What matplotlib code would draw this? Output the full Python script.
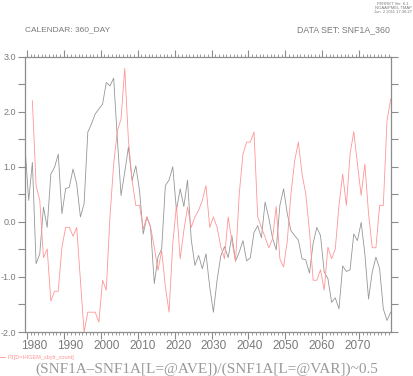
import numpy as np
import matplotlib
matplotlib.use("Agg")
import matplotlib.pyplot as plt
import matplotlib.transforms as mtransforms
from matplotlib.ticker import MultipleLocator

# --- data (annual values, normalised) ---
first_year = 1979.5
gray_vals = [1.36, 0.39, 1.08, -0.76, -0.58, 0.27, -0.10, 0.87, 0.99, 1.23,
             0.15, 0.60, 0.63, 0.96, 0.69, 0.09, 0.33, 1.63, 1.78, 1.96,
             2.05, 2.14, 2.53, 2.47, 2.61, 1.51, 0.48, 0.90, 1.36, 0.75,
             1.02, 0.57, -0.22, 0.09, -0.10, -1.12, -0.64, -0.49, 0.66, 0.76,
             1.00, 0.21, 0.60, 0.28, 0.76, -0.32, -0.79, -0.61, -0.85, -0.58,
             -1.18, -1.64, -1.06, -0.62, -0.45, -0.65, -0.25, -0.71, -0.55, -0.34,
             -0.71, -0.65, -0.19, -0.07, -0.29, 0.36, 0.07, -0.29, -0.51, 0.30,
             0.60, 0.15, -0.16, -0.25, -0.33, -0.67, -0.69, -0.93, -0.39, -0.10,
             -0.25, -0.91, -1.03, -1.46, -1.38, -1.58, -0.80, -0.90, -0.87, -0.22,
             -0.34, -0.01, -0.58, -1.40, -0.91, -0.64, -0.85, -1.58, -1.79, -1.64]
red_vals = [np.nan, np.nan, 2.20, 0.66, 0.39, -0.65, -0.49, -1.44, -1.26, -1.26,
            -0.46, -0.10, -0.10, -0.26, -0.10, -1.06, -2.00, -1.64, -1.64, -1.64,
            -1.82, -1.06, -1.24, 0.09, 1.05, 1.65, 1.87, 2.79, 1.48, 0.75,
            0.30, 0.30, -0.13, 0.09, -0.10, -0.46, -0.88, -0.52, -1.18, -1.64,
            -0.40, 0.30, -0.67, -0.16, 0.27, -0.10, 0.09, 0.21, 0.39, 0.66,
            -0.10, 0.09, -0.10, -0.45, -0.67, 0.09, -0.35, -0.72, 0.51, 1.23,
            1.45, 1.45, 1.63, 0.09, -0.10, -0.28, -0.47, -0.31, 0.28, -0.67,
            -0.82, -0.35, 0.51, 1.11, 1.45, 0.87, 0.51, -0.16, -1.06, -1.06,
            -0.87, -1.24, -0.46, -0.67, -0.49, 0.30, 0.87, 0.30, 1.23, 1.64,
            1.05, 0.48, 1.05, 0.15, -0.47, -0.47, 0.30, 0.30, 1.84, 2.23]
years = first_year + np.arange(len(gray_vals))
decade_labels = [1980, 1990, 2000, 2010, 2020, 2030, 2040, 2050, 2060, 2070]
y_labels = [3.0, 2.0, 1.0, 0.0, -1.0, -2.0]

AXIS_COL = '#8c8c8c'
TEXT_COL = '#7a7a7a'
SANS = ['Liberation Sans', 'DejaVu Sans']

fig = plt.figure(figsize=(4.14, 3.76), dpi=100)
ax = fig.add_axes([25 / 414, 1 - 332 / 376, 365.7 / 414, 275.3 / 376])

ax.plot(years, gray_vals, color='#969696', lw=0.6)
ax.plot(years, red_vals, color='#ff9595', lw=0.6)

ax.set_xlim(years[0], years[-1])
ax.set_ylim(-2.0, 3.0)

# y axis: ticks every 0.5, labels on whole numbers, both sides, outward
ax.set_yticks(y_labels)
ax.set_yticklabels([f"{v:.1f}" for v in y_labels])
ax.set_yticks(np.arange(-2.0, 3.01, 0.5), minor=True)
ax.tick_params(axis='y', which='both', direction='out', left=True, right=True,
               length=5, width=0.8, color=AXIS_COL, labelsize=6.5,
               labelcolor=TEXT_COL, pad=1.5)
for lab in ax.get_yticklabels():
    lab.set_family(SANS)

# x axis: minor ticks each year, major each decade, top and bottom, outward
ax.set_xticks(decade_labels)
ax.set_xticklabels([])
ax.xaxis.set_minor_locator(MultipleLocator(1))
ax.tick_params(axis='x', which='major', direction='out', top=True, bottom=True,
               length=5, width=0.8, color=AXIS_COL)
ax.tick_params(axis='x', which='minor', direction='out', top=True, bottom=True,
               length=2.5, width=0.6, color=AXIS_COL)

# Ferret draws the year labels slightly compressed relative to the ticks,
# so they are placed in axes fraction (first one sits just inside the frame)
xlab_trans = mtransforms.blended_transform_factory(ax.transAxes, fig.transFigure)
for i, d in enumerate(decade_labels):
    xf = (9.5 + i * 35.9) / 365.7
    ax.text(xf, 1 - 346 / 376, str(d), transform=xlab_trans, ha='center',
            va='center', fontsize=8.5, color=TEXT_COL, family=SANS, clip_on=False)

for sp in ax.spines.values():
    sp.set_color(AXIS_COL)
    sp.set_linewidth(0.9)

# header texts
fig.text(25 / 414, 1 - 30 / 376, "CALENDAR: 360_DAY", ha='left', va='center',
         fontsize=6, color=TEXT_COL, family=SANS)
fig.text(390 / 414, 1 - 30 / 376, "DATA SET: SNF1A_360", ha='right', va='center',
         fontsize=6.3, color=TEXT_COL, family=SANS)
fig.text(393 / 414, 1 - 8 / 376, "FERRET Ver. 6.1\nNOAA/PMEL TMAP\nJun  2 2011 17:36:27",
         ha='center', va='center', fontsize=3, color=TEXT_COL, family=SANS,
         linespacing=1.1)

# legend line and label
fig.add_artist(plt.Line2D([0 / 414, 5 / 414], [1 - 357 / 376, 1 - 357 / 376],
                          color='#ff9595', lw=0.6))
fig.text(8 / 414, 1 - 357 / 376, "P1[D=HIGEM_xbylr_count]", ha='left', va='center',
         fontsize=4, color='#ff9595', family=SANS)

# bottom title
fig.text(207 / 414, 1 - 369 / 376, "(SNF1A\u2013SNF1A[L=@AVE])/(SNF1A[L=@VAR])~0.5",
         ha='center', va='center', fontsize=11, color='#9a9a9a',
         family=['Liberation Serif', 'DejaVu Serif'])

fig.savefig("out.png", dpi=100)
